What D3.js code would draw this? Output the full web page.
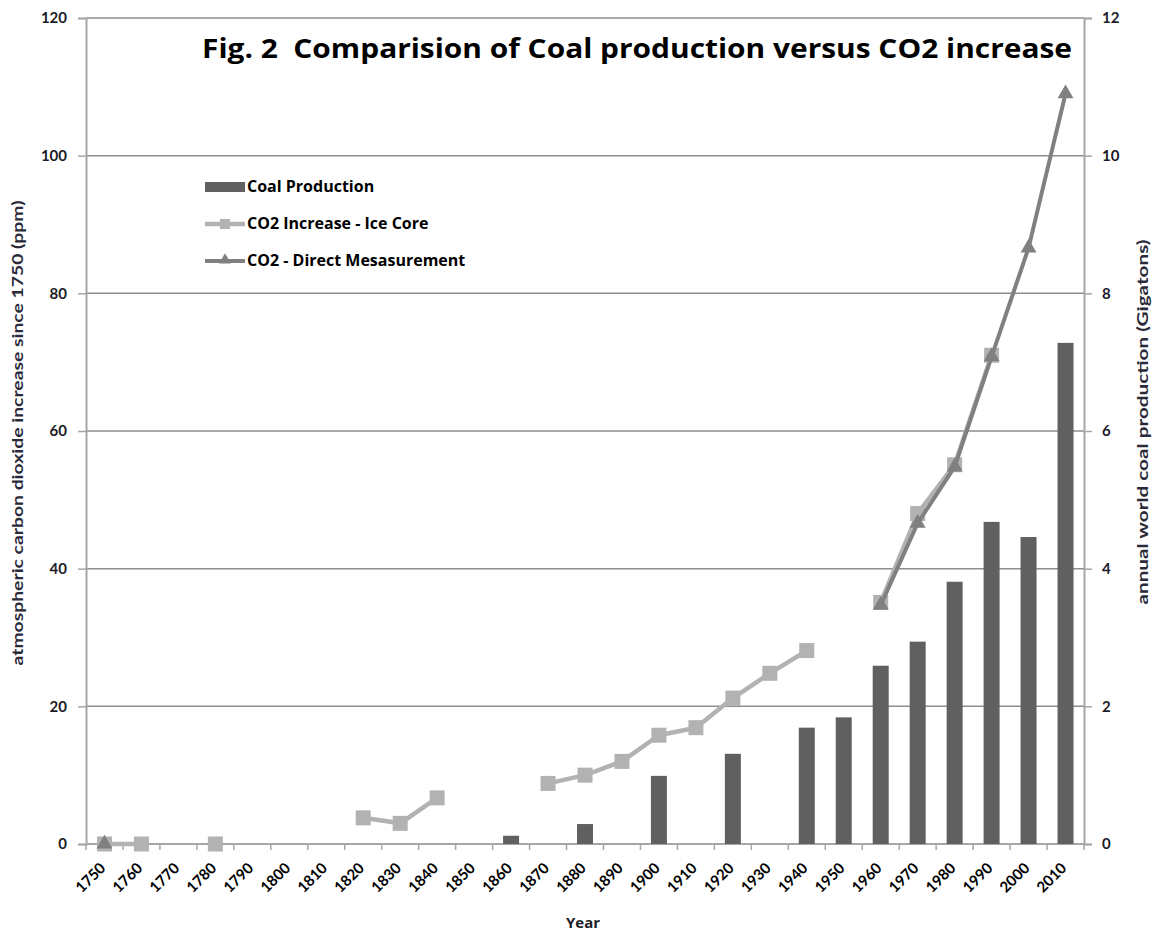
<!DOCTYPE html>
<html>
<head>
<meta charset="utf-8">
<script src="https://cdn.jsdelivr.net/npm/d3@7"></script>
<style>
  body { margin: 0; background: #fff; }
  text { font-family: Lato, 'Open Sans', sans-serif; font-weight: 700; }
  .wide { font-family: 'Open Sans', Lato, sans-serif; }
</style>
</head>
<body>
<div id="chart"></div>
<script>
const years = ['1750', '1760', '1770', '1780', '1790', '1800', '1810', '1820', '1830',
  '1840', '1850', '1860', '1870', '1880', '1890', '1900', '1910', '1920', '1930',
  '1940', '1950', '1960', '1970', '1980', '1990', '2000', '2010'];

// annual world coal production (Gigatons), right axis
const coal = [null, null, null, null, null, null, null, null, null, null, null, 0.12,
  null, 0.29, null, 0.99, null, 1.31, null, 1.69, 1.84, 2.59, 2.94, 3.81, 4.68, 4.46, 7.28];

// CO2 increase since 1750 (ppm), left axis
const iceCore = [0, 0, null, 0, null, null, null, 3.8, 3.0, 6.7, null, null, 8.8, 10.0,
  12.0, 15.8, 16.9, 21.2, 24.8, 28.1, null, 35.1, 48.0, 55.1, 71.0, null, null];
const direct = [0, null, null, null, null, null, null, null, null, null, null, null,
  null, null, null, null, null, null, null, null, null, 34.7, 46.6, 54.8, 70.8, 86.6, 109.0];

const leftTicks = [0, 20, 40, 60, 80, 100, 120];
const rightTicks = [0, 2, 4, 6, 8, 10, 12];

const WIDTH = 1166;
const HEIGHT = 933;
const margin = { top: 18, right: 82, bottom: 89, left: 86 };

const barColor = '#606060';
const iceColor = '#b2b2b2';
const directColor = '#808080';
const gridColor = '#8e8e8e';
const axisColor = '#a6a6a6';

const svg = d3.select('#chart').append('svg')
  .attr('width', WIDTH).attr('height', HEIGHT);

const x = d3.scaleBand().domain(years)
  .range([margin.left, WIDTH - margin.right]);
const yLeft = d3.scaleLinear().domain([0, 120])
  .range([HEIGHT - margin.bottom, margin.top]);
const yRight = d3.scaleLinear().domain([0, 12])
  .range([HEIGHT - margin.bottom, margin.top]);
const cx = (year) => x(year) + x.bandwidth() / 2;

// gridlines
svg.append('g').selectAll('line')
  .data(leftTicks.slice(1))
  .join('line')
  .attr('x1', margin.left).attr('x2', WIDTH - margin.right)
  .attr('y1', (d) => yLeft(d)).attr('y2', (d) => yLeft(d))
  .attr('stroke', gridColor).attr('stroke-width', 1.5);

// left axis
const leftAxis = svg.append('g')
  .attr('transform', `translate(${margin.left},0)`)
  .call(d3.axisLeft(yLeft).tickValues(leftTicks).tickSize(8).tickPadding(11));
leftAxis.select('.domain').attr('stroke', axisColor).attr('stroke-width', 2);
leftAxis.selectAll('.tick line').attr('stroke', axisColor).attr('stroke-width', 1.5);
leftAxis.selectAll('.tick text').attr('font-size', 15).attr('fill', '#1c1c28');

// right axis
const rightAxis = svg.append('g')
  .attr('transform', `translate(${WIDTH - margin.right},0)`)
  .call(d3.axisRight(yRight).tickValues(rightTicks).tickSize(8).tickPadding(10));
rightAxis.select('.domain').attr('stroke', axisColor).attr('stroke-width', 2);
rightAxis.selectAll('.tick line').attr('stroke', axisColor).attr('stroke-width', 1.5);
rightAxis.selectAll('.tick text').attr('font-size', 15).attr('fill', '#1c1c28');

// bottom axis with ticks between categories
const xAxis = svg.append('g')
  .attr('transform', `translate(0,${HEIGHT - margin.bottom})`);
xAxis.append('line')
  .attr('x1', margin.left).attr('x2', WIDTH - margin.right)
  .attr('stroke', axisColor).attr('stroke-width', 2);
xAxis.selectAll('.xtick')
  .data([...years.map((d) => x(d)), x.range()[1]])
  .join('line')
  .attr('class', 'xtick')
  .attr('x1', (d) => d).attr('x2', (d) => d)
  .attr('y1', 0).attr('y2', 6)
  .attr('stroke', axisColor).attr('stroke-width', 1.5);
xAxis.selectAll('text')
  .data(years)
  .join('text')
  .attr('transform', (d) => `translate(${cx(d) + 2},25) rotate(-45)`)
  .attr('text-anchor', 'end')
  .attr('font-size', 15)
  .attr('fill', '#000')
  .text((d) => d);

// bars
const barWidth = 16;
svg.append('g').selectAll('rect')
  .data(years.map((year, i) => ({ year, value: coal[i] })).filter((d) => d.value !== null))
  .join('rect')
  .attr('x', (d) => cx(d.year) - barWidth / 2)
  .attr('width', barWidth)
  .attr('y', (d) => yRight(d.value))
  .attr('height', (d) => yRight(0) - yRight(d.value))
  .attr('fill', barColor);

const line = d3.line()
  .defined((d) => d.value !== null)
  .x((d) => cx(d.year))
  .y((d) => yLeft(d.value));

// ice core series
const iceData = years.map((year, i) => ({ year, value: iceCore[i] }));
svg.append('path')
  .attr('d', line(iceData))
  .attr('fill', 'none').attr('stroke', iceColor)
  .attr('stroke-width', 4.5).attr('stroke-linejoin', 'round');
svg.append('g').selectAll('rect')
  .data(iceData.filter((d) => d.value !== null))
  .join('rect')
  .attr('x', (d) => cx(d.year) - 7.5).attr('y', (d) => yLeft(d.value) - 7.5)
  .attr('width', 15).attr('height', 15)
  .attr('fill', iceColor);

// direct measurement series
const directData = years.map((year, i) => ({ year, value: direct[i] }));
const triangle = d3.symbol().type(d3.symbolTriangle).size(110);
svg.append('path')
  .attr('d', line(directData))
  .attr('fill', 'none').attr('stroke', directColor)
  .attr('stroke-width', 4).attr('stroke-linejoin', 'round');
svg.append('g').selectAll('path')
  .data(directData.filter((d) => d.value !== null))
  .join('path')
  .attr('d', triangle)
  .attr('transform', (d) => `translate(${cx(d.year)},${yLeft(d.value)})`)
  .attr('fill', directColor);

// title
svg.append('text')
  .attr('class', 'wide')
  .attr('x', 1072).attr('y', 58)
  .attr('text-anchor', 'end')
  .attr('font-size', 26)
  .attr('fill', '#000')
  .attr('xml:space', 'preserve')
  .attr('textLength', 870)
  .attr('lengthAdjust', 'spacingAndGlyphs')
  .text('Fig. 2  Comparision of Coal production versus CO2 increase');

// axis titles
svg.append('text')
  .attr('transform', `translate(23,${(margin.top + HEIGHT - margin.bottom) / 2 + 2}) rotate(-90)`)
  .attr('text-anchor', 'middle')
  .attr('font-size', 16)
  .attr('fill', '#2a2a3a')
  .attr('textLength', 465)
  .attr('lengthAdjust', 'spacingAndGlyphs')
  .text('atmospheric carbon dioxide increase since 1750 (ppm)');
svg.append('text')
  .attr('transform', `translate(1148,422) rotate(-90)`)
  .attr('text-anchor', 'middle')
  .attr('font-size', 16)
  .attr('fill', '#2a2a3a')
  .attr('textLength', 365)
  .attr('lengthAdjust', 'spacingAndGlyphs')
  .text('annual world coal production (Gigatons)');
svg.append('text')
  .attr('class', 'wide')
  .attr('x', 583).attr('y', 928)
  .attr('text-anchor', 'middle')
  .attr('font-size', 15)
  .attr('fill', '#1c1c28')
  .text('Year');

// legend
const legendItems = ['Coal Production', 'CO2 Increase - Ice Core', 'CO2 - Direct Mesasurement'];
const legend = svg.append('g').attr('transform', 'translate(205,187)');
const rows = legend.selectAll('g')
  .data(legendItems)
  .join('g')
  .attr('transform', (_, i) => `translate(0,${i * 37})`);
rows.append('text')
  .attr('class', 'wide')
  .attr('x', 42).attr('y', 5)
  .attr('font-size', 16)
  .attr('fill', '#000')
  .text((d) => d);
legend.append('rect')
  .attr('x', 0).attr('y', -5).attr('width', 40).attr('height', 10)
  .attr('fill', barColor);
legend.append('line')
  .attr('x1', 0).attr('x2', 40).attr('y1', 37).attr('y2', 37)
  .attr('stroke', iceColor).attr('stroke-width', 4.5);
legend.append('rect')
  .attr('x', 15).attr('y', 32).attr('width', 10).attr('height', 10)
  .attr('fill', iceColor);
legend.append('line')
  .attr('x1', 0).attr('x2', 40).attr('y1', 74).attr('y2', 74)
  .attr('stroke', directColor).attr('stroke-width', 4);
legend.append('path')
  .attr('d', d3.symbol().type(d3.symbolTriangle).size(60))
  .attr('transform', 'translate(20,73)')
  .attr('fill', directColor);
</script>
</body>
</html>
